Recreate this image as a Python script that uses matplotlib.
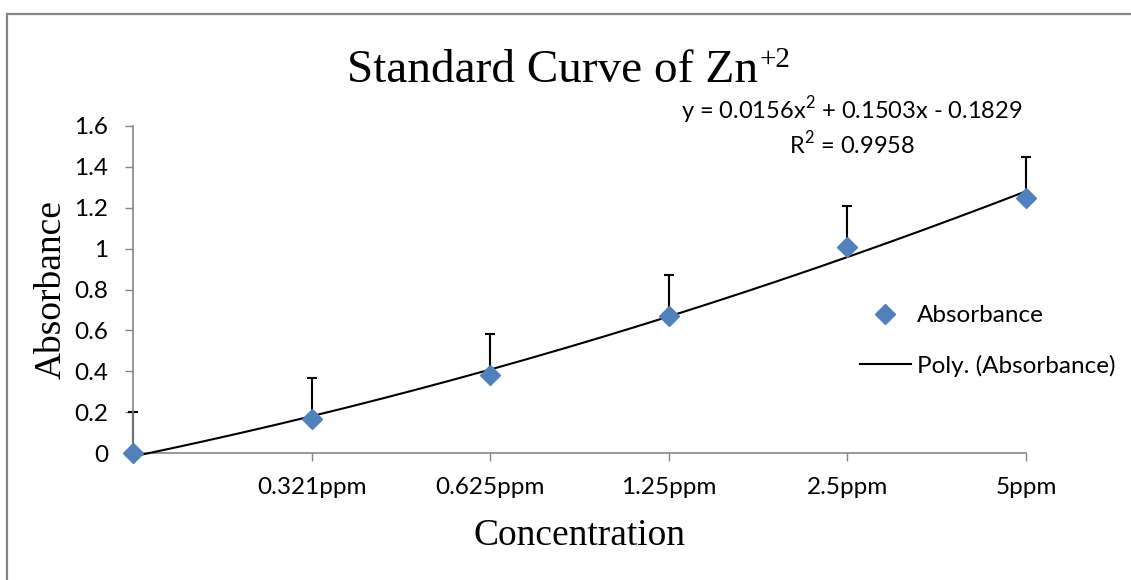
import numpy as np
import matplotlib
matplotlib.use("Agg")
import matplotlib.pyplot as plt
from matplotlib.lines import Line2D
from matplotlib.transforms import offset_copy

# standard solutions and measured absorbance
categories = ["", "0.321ppm", "0.625ppm", "1.25ppm", "2.5ppm", "5ppm"]
absorbance = [0.0, 0.165, 0.38, 0.67, 1.01, 1.25]
error_plus = [0.2, 0.2, 0.2, 0.2, 0.2, 0.2]

# polynomial trendline (order 2) as reported on the chart
poly_coef = [0.0156, 0.1503, -0.1829]
r_squared = 0.9958

sans = "Lato"
serif = "Liberation Serif"
plt.rcParams["mathtext.fontset"] = "custom"
plt.rcParams["mathtext.rm"] = serif
plt.rcParams["mathtext.sf"] = sans

fig = plt.figure(figsize=(11.31, 5.80), dpi=100)
ax = fig.add_axes([133 / 1131, 1 - 453 / 580, (1026 - 133) / 1131, (453 - 126) / 580])

x = np.arange(1, len(categories) + 1)

# outer chart border (only top and left edges are visible)
fig.add_artist(Line2D([6.5 / 1131, 6.5 / 1131], [0, 1 - 14 / 580], color="#868686", lw=1.6))
fig.add_artist(Line2D([6.5 / 1131, 1], [1 - 14 / 580, 1 - 14 / 580], color="#868686", lw=1.6))

# error bars, plus direction only
ax.errorbar(x, absorbance, yerr=[np.zeros(len(x)), error_plus], fmt="none",
            ecolor="black", elinewidth=1.5, capsize=3.5, capthick=1.5,
            clip_on=False, zorder=2)

xs = np.linspace(x[0], x[-1], 200)
trend = np.polyval(poly_coef, xs)
ax.plot(xs, trend, color="black", lw=1.5, clip_on=False, zorder=3,
        label="Poly. (Absorbance)")
ax.plot(x, absorbance, linestyle="none", marker="D", markersize=10.5,
        color="#4F81BD", clip_on=False, zorder=4, label="Absorbance")

ax.set_xlim(1, 6)
ax.set_ylim(0, 1.6)
ax.set_xticks(x[1:])
ax.set_xticklabels(categories[1:], fontfamily=sans, fontsize=17.5)
ax.set_yticks(np.arange(0, 1.61, 0.2))
ax.set_yticklabels(["0", "0.2", "0.4", "0.6", "0.8", "1", "1.2", "1.4", "1.6"],
                   fontfamily=sans, fontsize=17.5)
ax.tick_params(axis="y", length=6, width=1, color="#868686", pad=12)
ax.tick_params(axis="x", length=6, width=1, color="#868686", pad=11)

for side in ["top", "right"]:
    ax.spines[side].set_visible(False)
for side in ["left", "bottom"]:
    ax.spines[side].set_color("#868686")
    ax.spines[side].set_linewidth(1.2)

ax.set_xlabel("Concentration", fontfamily=serif, fontsize=27, labelpad=15)
ax.set_ylabel("Absorbance", fontfamily=serif, fontsize=27, labelpad=4)

# title with a smaller raised charge
title = fig.text(0.489, 1 - 82 / 580, "Standard Curve of Zn",
                 fontfamily=serif, fontsize=34, ha="center", va="baseline")
fig.canvas.draw()
bb = title.get_window_extent()
fig.text(bb.x1 / fig.bbox.width + 0.001, 1 - 82 / 580, "+2",
         transform=offset_copy(fig.transFigure, fig=fig, x=0, y=11, units="points"),
         fontfamily=serif, fontsize=21, ha="left", va="baseline")

eq = (r"y = %.4fx$^{\mathsf{2}}$ + %.4fx - %.4f" % (poly_coef[0], poly_coef[1], -poly_coef[2])
      + "\n" + r"R$^{\mathsf{2}}$ = %.4f" % r_squared)
fig.text(852 / 1131, 1 - 126 / 580, eq, fontfamily=sans, fontsize=17,
         ha="center", va="center", multialignment="center", linespacing=1.2)

handles, labels = ax.get_legend_handles_labels()
ax.legend(handles[::-1], labels[::-1], loc="center left",
          bbox_to_anchor=(850 / 1131, 1 - 341 / 580), bbox_transform=fig.transFigure,
          frameon=False, prop={"family": sans, "size": 17.5}, handlelength=2.1,
          handletextpad=0.25, labelspacing=1.15, borderaxespad=0)

fig.savefig("out.png", dpi=100)
